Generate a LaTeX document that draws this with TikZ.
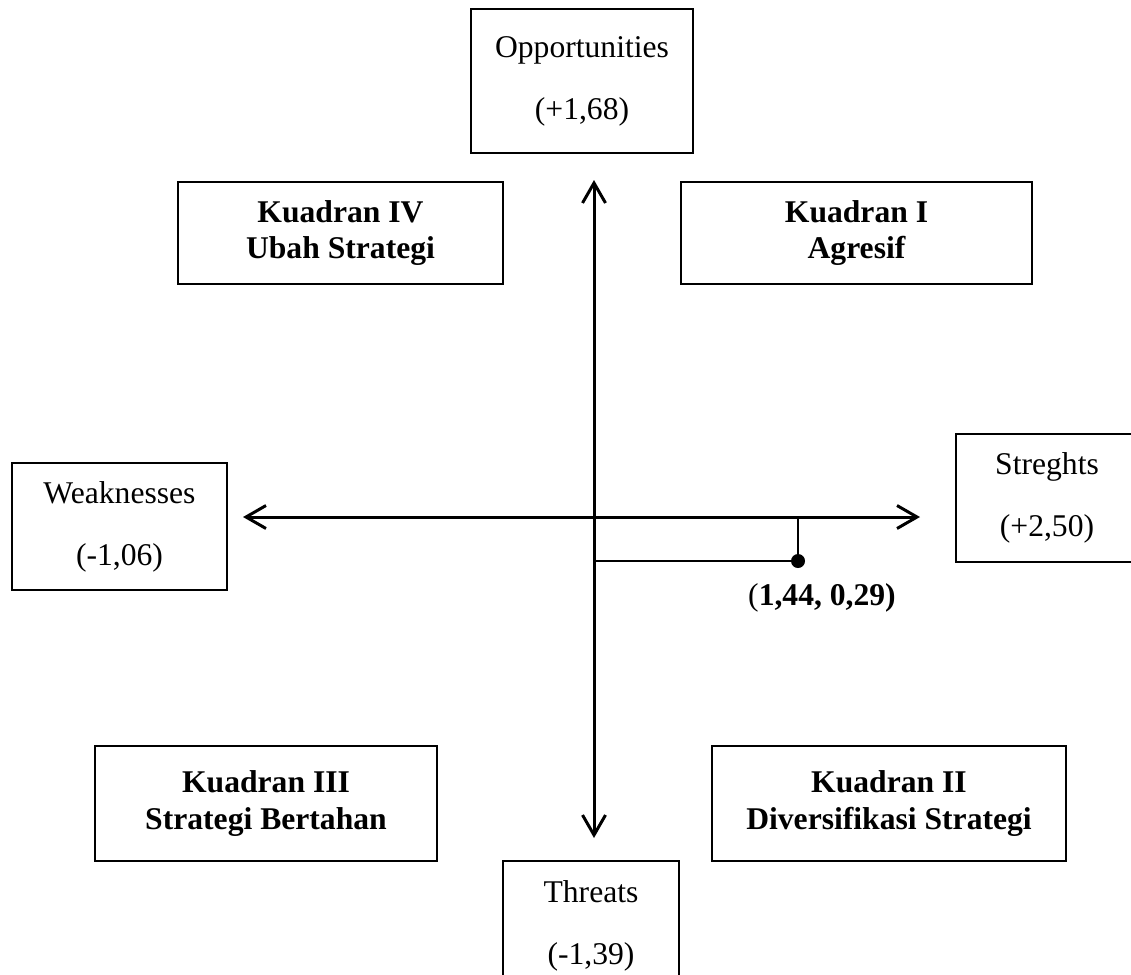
\documentclass[tikz,border=0pt]{standalone}
\usepackage{fontspec}
\setmainfont{Liberation Serif}
\usetikzlibrary{arrows.meta}

\tikzstyle{axislabel} = [draw,line width=0.8pt,align=center,inner sep=0pt,font=\fontsize{18}{35.3}\selectfont]
\tikzstyle{quadrant} = [draw,line width=0.8pt,align=center,inner sep=0pt,font=\fontsize{18}{21}\selectfont\bfseries]
\tikzstyle{axis} = [line width=1.7pt,{Straight Barb[length=4mm,width=4.6mm]}-{Straight Barb[length=4mm,width=4.6mm]}]
\tikzstyle{guide} = [line width=1.1pt]
\tikzstyle{marker} = [circle,fill,minimum size=0.28cm,inner sep=0pt]

\begin{document}
\begin{tikzpicture}[x=0.02cm,y=-0.02cm]
      \useasboundingbox (0,0) rectangle (1131,974);

      %% axis labels
      \foreach \nodename/\text/\x/\y/\w/\h in {
        opp/{Opportunities\\(+1,68)}/582/81/222/144,
        weak/{Weaknesses\\(-1,06)}/119.5/526.5/215/127,
        str/{Streghts\\(+2,50)}/1047/498/182/128,
        thr/{Threats\\(-1,39)}/591/926/176/130}
      {
        \node[axislabel,minimum width=\w*0.02cm,minimum height=\h*0.02cm] (\nodename) at (\x,\y) {\text};
      }

      %% quadrants
      \foreach \nodename/\text/\x/\y/\w/\h in {
        kuadranI/{Kuadran I\\Agresif}/856.5/233/351/102,
        kuadranII/{Kuadran II\\Diversifikasi Strategi}/889/803.5/354/115,
        kuadranIII/{Kuadran III\\Strategi Bertahan}/266/803.5/342/115,
        kuadranIV/{Kuadran IV\\Ubah Strategi}/340.5/233/325/102}
      {
        \node[quadrant,minimum width=\w*0.02cm,minimum height=\h*0.02cm] (\nodename) at (\x,\y) {\text};
      }

      % axes
      \coordinate (wtip) at (243,517);
      \coordinate (stip) at (920,517);
      \coordinate (otip) at (594,180);
      \coordinate (ttip) at (594,838);
      \draw[axis] (wtip) -- (stip);
      \draw[axis] (otip) -- (ttip);

      % position
      \node[marker] (pos) at (798,561) {};
      \coordinate (foot) at (798,517);
      \coordinate (base) at (594,561);
      \draw[guide] (foot) -- (pos.center);
      \draw[guide] (base) -- (pos.center);
      \node[font=\fontsize{18}{21}\selectfont] (poslabel) at (822,598) {({\bfseries 1,44, 0,29)}};
\end{tikzpicture}
\end{document}
